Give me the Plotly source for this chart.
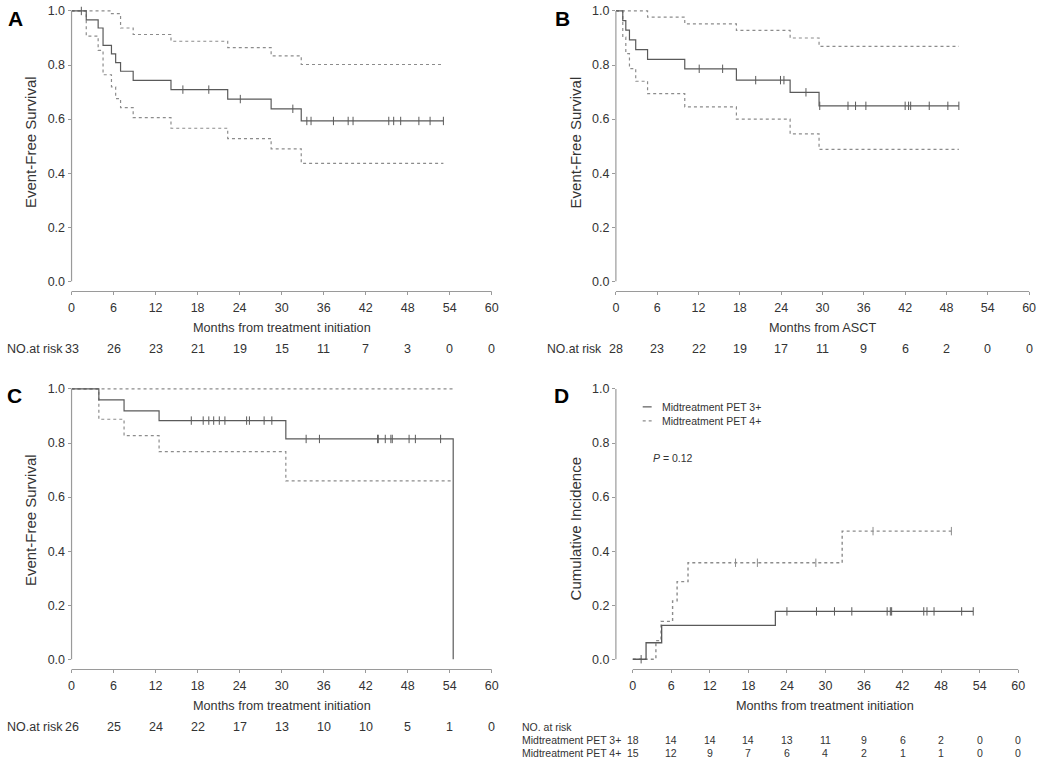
import plotly.graph_objects as go

W, H = 1050, 760

# ---------------- DATA ----------------
months_ticks = [0, 6, 12, 18, 24, 30, 36, 42, 48, 54, 60]
y_ticks = [0.0, 0.2, 0.4, 0.6, 0.8, 1.0]

# Panel A: EFS from treatment initiation
A_km_t = [0, 2.1, 3.8, 4.5, 5.7, 6.3, 7.0, 8.8, 14.2, 22.3, 28.5, 32.8, 53.1]
A_km_s = [1.0, 0.967, 0.937, 0.873, 0.841, 0.809, 0.777, 0.743, 0.709, 0.674, 0.638, 0.593, 0.593]
A_up_t = [0, 5.7, 7.0, 8.8, 14.2, 22.3, 28.5, 32.8, 53.1]
A_up_s = [1.0, 0.99, 0.937, 0.913, 0.888, 0.864, 0.834, 0.802, 0.802]
A_lo_t = [0, 2.1, 3.8, 4.5, 5.7, 6.3, 7.0, 8.8, 14.2, 22.3, 28.5, 32.8, 53.1]
A_lo_s = [1.0, 0.907, 0.854, 0.764, 0.719, 0.676, 0.642, 0.605, 0.566, 0.528, 0.490, 0.436, 0.436]
A_censor = [1.4, 15.9, 19.6, 24.1, 31.6, 33.6, 34.2, 37.4, 39.5, 40.2, 45.3, 46.0, 47.0, 49.6, 51.2, 53.1]
A_risk = [33, 26, 23, 21, 19, 15, 11, 7, 3, 0, 0]

# Panel B: EFS from ASCT
B_km_t = [0, 1.0, 1.44, 1.97, 2.88, 4.6, 10.0, 17.5, 25.3, 29.5, 49.8]
B_km_s = [1.0, 0.964, 0.929, 0.893, 0.857, 0.821, 0.786, 0.744, 0.699, 0.649, 0.649]
B_up_t = [0, 4.6, 10.0, 17.5, 25.3, 29.5, 49.8]
B_up_s = [1.0, 0.977, 0.952, 0.928, 0.900, 0.869, 0.869]
B_lo_t = [0, 1.0, 1.44, 1.97, 2.88, 4.6, 10.0, 17.5, 25.3, 29.5, 49.8]
B_lo_s = [1.0, 0.903, 0.842, 0.787, 0.740, 0.694, 0.645, 0.600, 0.545, 0.488, 0.488]
B_censor = [12.1, 15.5, 20.3, 23.9, 24.4, 27.6, 29.6, 33.7, 34.8, 36.3, 42.0, 42.5, 42.8, 45.5, 48.2, 49.8]
B_risk = [28, 23, 22, 19, 17, 11, 9, 6, 2, 0, 0]

# Panel C
C_km_t = [0, 3.9, 7.5, 12.5, 30.6, 54.5]
C_km_s = [1.0, 0.960, 0.919, 0.883, 0.815, 0.0]
C_up_t = [0, 54.5]
C_up_s = [1.0, 1.0]
C_lo_t = [0, 3.9, 7.5, 12.5, 30.6, 54.5]
C_lo_s = [1.0, 0.888, 0.827, 0.768, 0.660, 0.660]
C_censor = [17.1, 18.8, 19.6, 20.3, 21.1, 21.9, 25.0, 25.4, 27.5, 28.6, 33.5, 35.4,
            43.7, 43.8, 44.8, 45.6, 45.8, 48.2, 49.1, 52.7]
C_risk = [26, 25, 24, 22, 17, 13, 10, 10, 5, 1, 0]

# Panel D: cumulative incidence
D3_t = [0, 2.07, 4.5, 22.2, 53.0]
D3_s = [0.0, 0.061, 0.125, 0.177, 0.177]
D3_censor = [1.3, 24.0, 28.6, 31.4, 34.1, 39.6, 40.1, 40.3, 45.3, 45.8, 46.9, 51.2, 53.0]
D4_t = [0, 3.6, 4.4, 6.2, 6.9, 8.6, 32.6, 49.6]
D4_s = [0.0, 0.069, 0.140, 0.216, 0.287, 0.357, 0.474, 0.474]
D4_censor = [16.0, 19.4, 28.5, 37.4, 49.6]
D3_risk = [18, 14, 14, 14, 13, 11, 9, 6, 2, 0, 0]
D4_risk = [15, 12, 9, 7, 6, 4, 2, 1, 1, 0, 0]
D_labels = ["Midtreatment PET 3+", "Midtreatment PET 4+"]

# ---------------- STYLE ----------------
SOLID = "#5a5a5a"
DOT = "#8c8c8c"
AX = "#9a9a9a"
TXT = "#333333"
FONT = "Arial, Liberation Sans, sans-serif"

# pixel geometry of panels
geom = {
    "A": dict(x0=69, x60=492, y1=7, y0=278.7, xline=289, yline=69, xa="x", ya="y"),
    "B": dict(x0=617, x60=1033, y1=7, y0=278.7, xline=289, yline=617, xa="x2", ya="y2"),
    "C": dict(x0=69, x60=492, y1=387, y0=658.7, xline=669, yline=69, xa="x3", ya="y3"),
    "D": dict(x0=634, x60=1022, y1=387, y0=658.7, xline=669, yline=617, xa="x4", ya="y4"),
}


def px(x):
    return x / W


def py(y):
    return 1 - y / H


def step_at(ts, ss, t):
    v = ss[0]
    for ti, si in zip(ts, ss):
        if ti <= t:
            v = si
    return v


fig = go.Figure()
layout_axes = {}
shapes = []
annots = []

for key, g in geom.items():
    ppx = (g["x60"] - g["x0"]) / 60.0
    ppy = g["y0"] - g["y1"]
    left, right = g["yline"], g["x60"] + 3
    bottom, top = g["xline"], g["y1"] - 3
    xr = [(left - g["x0"]) / ppx, (right - g["x0"]) / ppx]
    yr = [(g["y0"] - bottom) / ppy, (g["y0"] - top) / ppy]
    xname = "xaxis" + g["xa"][1:]
    yname = "yaxis" + g["ya"][1:]
    layout_axes[xname] = dict(
        domain=[px(left), px(right)], range=xr, anchor=g["ya"],
        showline=False, showgrid=False, zeroline=False,
        ticks="outside", ticklen=3, tickwidth=1, tickcolor=AX,
        tickvals=months_ticks, tickfont=dict(size=12.5, color=TXT, family=FONT),
        ticklabelstandoff=2, fixedrange=True,
    )
    layout_axes[yname] = dict(
        domain=[py(bottom), py(top)], range=yr, anchor=g["xa"],
        showline=False, showgrid=False, zeroline=False,
        ticks="outside", ticklen=3, tickwidth=1, tickcolor=AX,
        tickvals=y_ticks, tickformat=".1f",
        tickfont=dict(size=12.5, color=TXT, family=FONT), fixedrange=True,
    )
    # axis lines (R style: only span 0..1 and 0..60)
    shapes.append(dict(type="line", xref="paper", yref="paper",
                       x0=px(left), x1=px(left), y0=py(g["y0"]), y1=py(g["y1"]),
                       line=dict(color=AX, width=1.2)))
    shapes.append(dict(type="line", xref="paper", yref="paper",
                       x0=px(g["x0"]), x1=px(g["x60"]), y0=py(bottom), y1=py(bottom),
                       line=dict(color=AX, width=1.2)))


def add_curve(t, s, xa, ya, color, dash, width=1.3):
    fig.add_trace(go.Scatter(x=t, y=s, xaxis=xa, yaxis=ya, mode="lines",
                             line=dict(shape="hv", color=color, dash=dash, width=width),
                             showlegend=False, hoverinfo="skip"))


def add_censor(cs, t, s, xa, ya, color):
    fig.add_trace(go.Scatter(x=cs, y=[step_at(t, s, c) for c in cs], xaxis=xa, yaxis=ya,
                             mode="markers",
                             marker=dict(symbol="line-ns-open", size=6, color=color,
                                         line=dict(width=1, color=color)),
                             showlegend=False, hoverinfo="skip", cliponaxis=False))


for key, (kt, ks, ut, us, lt, ls, cs) in {
    "A": (A_km_t, A_km_s, A_up_t, A_up_s, A_lo_t, A_lo_s, A_censor),
    "B": (B_km_t, B_km_s, B_up_t, B_up_s, B_lo_t, B_lo_s, B_censor),
    "C": (C_km_t, C_km_s, C_up_t, C_up_s, C_lo_t, C_lo_s, C_censor),
}.items():
    g = geom[key]
    add_curve(ut, us, g["xa"], g["ya"], DOT, "dot", 1.2)
    add_curve(lt, ls, g["xa"], g["ya"], DOT, "dot", 1.2)
    add_curve(kt, ks, g["xa"], g["ya"], SOLID, "solid", 1.2)
    add_censor(cs, kt, ks, g["xa"], g["ya"], SOLID)

gD = geom["D"]
add_curve(D4_t, D4_s, gD["xa"], gD["ya"], DOT, "dot", 1.4)
add_curve(D3_t, D3_s, gD["xa"], gD["ya"], SOLID, "solid", 1.3)
add_censor(D3_censor, D3_t, D3_s, gD["xa"], gD["ya"], SOLID)
add_censor(D4_censor, D4_t, D4_s, gD["xa"], gD["ya"], DOT)


def text(x, y, s, size=12.5, xref="paper", xanchor="center", color=TXT, angle=0, bold=False):
    annots.append(dict(x=x, y=py(y), xref=xref, yref="paper", text=(f"<b>{s}</b>" if bold else s),
                       showarrow=False, xanchor=xanchor, yanchor="middle", textangle=angle,
                       font=dict(size=size, color=color, family=FONT)))


# panel letters
text(px(3), 15, "A", 21, xanchor="left", color="black", bold=True)
text(px(554), 15, "B", 21, xanchor="left", color="black", bold=True)
text(px(2), 394, "C", 21, xanchor="left", color="black", bold=True)
text(px(553), 394, "D", 21, xanchor="left", color="black", bold=True)

# axis titles
text(30, 326, "Months from treatment initiation", 12.7, xref="x")
text(30, 326, "Months from ASCT", 12.7, xref="x2")
text(30, 706, "Months from treatment initiation", 12.7, xref="x3")
text(30, 706, "Months from treatment initiation", 12.7, xref="x4")
text(px(27), 139, "Event-Free Survival", 15, angle=-90)
text(px(576), 139, "Event-Free Survival", 15, angle=-90)
text(px(27), 519, "Event-Free Survival", 15, angle=-90)
text(px(576), 528, "Cumulative Incidence", 15, angle=-90)

# number at risk
text(px(2), 347, "NO.at risk", 12.5, xanchor="left")
text(px(605), 347, "NO.at risk", 12.2, xanchor="right")
text(px(2), 727, "NO.at risk", 12.5, xanchor="left")
for m, a, b, c in zip(months_ticks, A_risk, B_risk, C_risk):
    text(m, 347, str(a), 12.5, xref="x")
    text(m, 347, str(b), 12.5, xref="x2")
    text(m, 727, str(c), 12.5, xref="x3")

text(px(520), 727, "NO. at risk", 10.5, xanchor="left")
text(px(520), 740, D_labels[0], 10.5, xanchor="left")
text(px(520), 753, D_labels[1], 10.5, xanchor="left")
for m, a, b in zip(months_ticks, D3_risk, D4_risk):
    text(m, 740, str(a), 10.5, xref="x4")
    text(m, 753, str(b), 10.5, xref="x4")

# legend of panel D
shapes.append(dict(type="line", xref="paper", yref="paper", x0=px(644), x1=px(653),
                   y0=py(405), y1=py(405), line=dict(color=SOLID, width=1.2)))
shapes.append(dict(type="line", xref="paper", yref="paper", x0=px(644), x1=px(653),
                   y0=py(419), y1=py(419), line=dict(color=DOT, width=1.2, dash="dot")))
text(px(661), 405, D_labels[0], 10.5, xanchor="left")
text(px(661), 419, D_labels[1], 10.5, xanchor="left")
text(px(652), 456, "<i>P</i> = 0.12", 10.5, xanchor="left")

fig.update_layout(
    width=W, height=H, margin=dict(l=0, r=0, t=0, b=0),
    paper_bgcolor="white", plot_bgcolor="white",
    showlegend=False, shapes=shapes, annotations=annots,
    font=dict(family=FONT, color=TXT),
    **layout_axes,
)

fig.write_html(
    "out.html",
    config={"displayModeBar": False},
    post_script="document.body.style.margin='0';document.body.style.overflow='hidden';",
)
